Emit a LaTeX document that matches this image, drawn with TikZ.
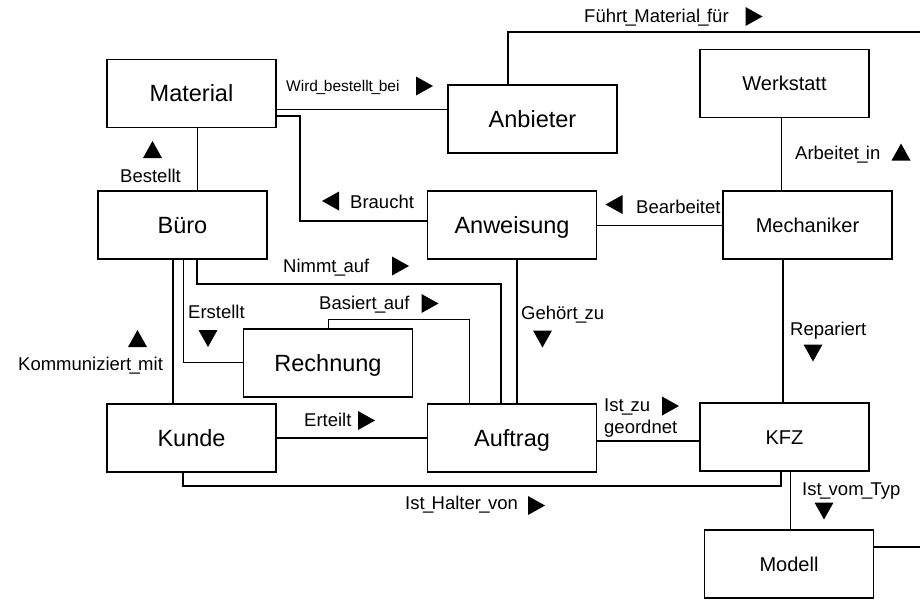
\documentclass[tikz,border=0pt]{standalone}
\usepackage{fontspec}
\setmainfont{Liberation Sans}
\newcommand{\us}{\kern-0.09em\_\kern-0.09em}
\begin{document}
\begin{tikzpicture}[x=1pt,y=-1pt,
 box/.style={draw, line width=1.2pt, minimum width=169pt, minimum height=68pt, inner sep=0pt, outer sep=0pt, text depth=0pt},
 bigbox/.style={box, font=\fontsize{23.5}{28}\selectfont, text height=16.8pt},
 smallbox/.style={box, font=\fontsize{20}{24}\selectfont, text height=14.3pt},
 lbl/.style={anchor=base west, inner sep=0pt, font=\fontsize{18.5}{22}\selectfont},
 thinl/.style={line width=1pt},
 thickl/.style={line width=2pt},
 trir/.pic={\fill (-8.5,-9.5) -- (8.5,0) -- (-8.5,9.5) -- cycle;},
 tril/.pic={\fill (8.5,-9.5) -- (-8.5,0) -- (8.5,9.5) -- cycle;},
 triu/.pic={\fill (-9.5,8.5) -- (0,-8.5) -- (9.5,8.5) -- cycle;},
 trid/.pic={\fill (-9.5,-8.5) -- (0,8.5) -- (9.5,-8.5) -- cycle;}
]
\useasboundingbox (0,0) rectangle (920,600);

% entities
\node[bigbox] (mat) at (191.5,93.5) {Material};
\node[bigbox] (anb) at (532.5,119) {Anbieter};
\node[smallbox] (werk) at (784.5,83.5) {Werkstatt};
\node[bigbox] (buero) at (182.5,225) {Büro};
\node[bigbox] (anw) at (512,225) {Anweisung};
\node[smallbox] (mech) at (807.5,225) {Mechaniker};
\node[bigbox] (rech) at (328,363) {Rechnung};
\node[bigbox] (kunde) at (191.5,438) {Kunde};
\node[bigbox] (auf) at (512,438) {Auftrag};
\node[smallbox] (kfz) at (784.5,437) {KFZ};
\node[smallbox] (modell) at (789,564) {Modell};

% connectors
\draw[thinl] (mat.south -| 197,0) -- (buero.north -| 197,0);
\draw[thinl] (mat.east |- 0,109) -- (anb.west |- 0,109);
\draw[thickl] (mat.east |- 0,116) -- (300,116) -- (300,221) -- (anw.west |- 0,221);
\draw[thickl] (anb.north -| 508,0) -- (508,32) -- (935,32) -- (935,547) -- (modell.east |- 0,547);
\draw[thinl] (werk.south -| 781,0) -- (mech.north -| 781,0);
\draw[thinl] (anw.east) -- (mech.west);
\draw[thickl] (buero.south -| 173,0) -- (kunde.north -| 173,0);
\draw[thinl] (buero.south -| 183,0) -- (183,362) -- (rech.west |- 0,362);
\draw[thickl] (buero.south -| 197,0) -- (197,284) -- (501,284) -- (auf.north -| 501,0);
\draw[thinl] (rech.north) -- (328,319) -- (469,319) -- (auf.north -| 469,0);
\draw[thickl] (anw.south -| 517,0) -- (auf.north -| 517,0);
\draw[thickl] (mech.south -| 783,0) -- (kfz.north -| 783,0);
\draw[thickl] (kunde.east) -- (auf.west);
\draw[thickl] (auf.east |- 0,441) -- (kfz.west |- 0,441);
\draw[thickl] (kunde.south -| 183,0) -- (183,486) -- (781,486) -- (kfz.south -| 781,0);
\draw[thinl] (kfz.south -| 790,0) -- (modell.north -| 790,0);

% labels
\node[lbl, font=\fontsize{15.5}{18}\selectfont] (l1) at (286,91.5) {Wird\us bestellt\us bei};
\pic at (424.5,86) {trir};
\node[lbl] (l2) at (120,182.6) {Bestellt};
\pic at (152.5,149.5) {triu};
\node[lbl] (l3) at (350,208.6) {Braucht};
\pic at (330.5,201) {tril};
\node[lbl] (l4) at (283,272.6) {Nimmt\us auf};
\pic at (400.5,266) {trir};
\node[lbl] (l5) at (584,22.6) {Führt\us Material\us für};
\pic at (754,16.5) {trir};
\node[lbl] (l6) at (795,159.6) {Arbeitet\us in};
\pic at (901,152) {triu};
\node[lbl] (l7) at (636,213.6) {Bearbeitet};
\pic at (614,204.5) {tril};
\node[lbl] (l8) at (319,309.6) {Basiert\us auf};
\pic at (430,303.5) {trir};
\node[lbl] (l9) at (188,318.6) {Erstellt};
\pic at (208,338.5) {trid};
\node[lbl] (l10) at (18,370.6) {Kommuniziert\us mit};
\pic at (137.5,338.5) {triu};
\node[lbl] (l11) at (304,426.6) {Erteilt};
\pic at (366.5,420.5) {trir};
\node[lbl] (l12) at (405,509.6) {Ist\us Halter\us von};
\pic at (536.5,505.5) {trir};
\node[lbl] (l13) at (521,319.6) {Gehört\us zu};
\pic at (542.5,339) {trid};
\node[lbl] (l14) at (790,335.6) {Repariert};
\pic at (813,353) {trid};
\node[lbl] (l15) at (604,411.6) {Ist\us zu};
\node[lbl] (l16) at (604,433.6) {geordnet};
\pic at (670.5,406) {trir};
\node[lbl] (l17) at (802,495.6) {Ist\us vom\us Typ};
\pic at (824,511) {trid};
\end{tikzpicture}
\end{document}
